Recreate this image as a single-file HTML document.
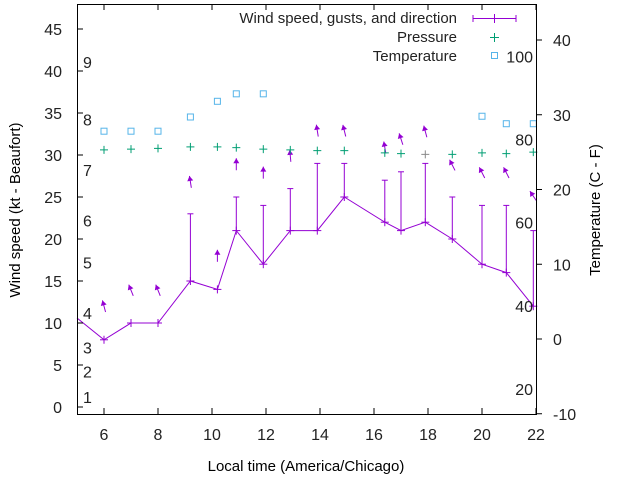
<!DOCTYPE html>
<html><head><meta charset="utf-8"><style>
body{margin:0;background:#fff}
svg{display:block;font-family:"Liberation Sans",sans-serif}
</style></head><body>
<svg id="chart" width="640" height="480">
<rect x="0" y="0" width="640" height="480" fill="#fff"/>
<g id="marks"></g>
<rect x="77.5" y="4.5" width="459" height="410" fill="none" stroke="#000"/>
<g id="axes" font-size="16" fill="#222"></g>
<text x="20" y="210" font-size="15" text-anchor="middle" transform="rotate(-90 20 210)">Wind speed (kt - Beaufort)</text>
<text x="600" y="210" font-size="15" text-anchor="middle" transform="rotate(-90 600 210)">Temperature (C - F)</text>
<text x="306" y="471" font-size="15" text-anchor="middle">Local time (America/Chicago)</text>
<g font-size="15" fill="#222">
<text x="457" y="23" text-anchor="end">Wind speed, gusts, and direction</text>
<text x="457" y="42" text-anchor="end">Pressure</text>
<text x="457" y="61" text-anchor="end">Temperature</text>
</g>
<g stroke="#9400d3" stroke-width="1"><line x1="473" y1="18.5" x2="516" y2="18.5"/><line x1="473" y1="15" x2="473" y2="22"/><line x1="516" y1="15" x2="516" y2="22"/><line x1="494.5" y1="14" x2="494.5" y2="23"/></g>
<g stroke="#009e73"><line x1="490" y1="37.5" x2="499" y2="37.5"/><line x1="494.5" y1="33" x2="494.5" y2="42"/></g>
<rect x="491.5" y="52.5" width="6" height="6" fill="none" stroke="#56b4e9"/>
</svg>
<script>
const hours=[6.0,7.0,8.0,9.2,10.2,10.9,11.9,12.9,13.9,14.9,16.4,17.0,17.9,18.9,20.0,20.9,21.9];
const windKt=[8,10,10,15,14,21,17,21,21,25,22,21,22,20,17,16,12];
const gustKt=[null,null,null,23,null,25,24,26,29,29,27,28,29,25,24,24,21];
const arrowKt=[12,13.9,13.9,26.8,18,28.9,27.9,29.9,32.9,32.9,30.9,31.9,32.8,28.8,27.9,27.9,25.1];
const arrowDir=[345,338,338,351,0,0,0,355,351,346,350,342,345,333,333,333,326];
const pressure=[25.3,25.4,25.5,25.7,25.7,25.6,25.4,25.3,25.2,25.2,24.9,24.8,24.7,24.7,24.9,24.8,25.0];
const tempHours=[6.0,7.0,8.0,9.2,10.2,10.9,11.9,20.0,20.9,21.9];
const tempC=[27.8,27.8,27.8,29.7,31.8,32.8,32.8,29.8,28.8,28.8];
const firstWind=10.6;
const xTicks=[6,8,10,12,14,16,18,20,22];
const yTicks=[0,5,10,15,20,25,30,35,40,45];
const y2Ticks=[-10,0,10,20,30,40];
const bftLabels=["1","2","3","4","5","6","7","8","9"];
const bftKt=[1.2,4.2,7.1,11.2,17.2,22.2,28.2,34.2,41.1];
const fLabels=["100","80","60","40","20"];
const fPos=[37.8,26.7,15.6,4.4,-6.7];

const X=h=>77+(h-5)*27, Y=v=>407-v*8.4, Y2=v=>339-v*7.475;
const NS="http://www.w3.org/2000/svg";
const marks=document.getElementById('marks'), axes=document.getElementById('axes');
function mk(p,tag,attrs){const e=document.createElementNS(NS,tag);for(const k in attrs)e.setAttribute(k,attrs[k]);p.appendChild(e);return e;}
const purple="#9400d3";
// wind line
let d="M77,"+Y(firstWind);
hours.forEach((h,i)=>{d+=" L"+X(h)+","+Y(windKt[i]);});
const wl=mk(marks,'path',{d:d,fill:'none',stroke:purple});


hours.forEach((h,i)=>{
  const x=X(h),y=Y(windKt[i]);
  const g=mk(marks,'g',{stroke:purple});
  
  
  mk(g,'line',{x1:x-4,y1:y,x2:x+4,y2:y});mk(g,'line',{x1:x,y1:y-4,x2:x,y2:y+4});
  if(gustKt[i]!==null){const gy=Y(gustKt[i]);mk(g,'line',{x1:x,y1:y,x2:x,y2:gy});mk(g,'line',{x1:x-3,y1:gy,x2:x+3,y2:gy});}
  // arrow
  const a=arrowDir[i]*Math.PI/180, cy=Y(arrowKt[i]), L=6;
  const dx=Math.sin(a)*L, dy=-Math.cos(a)*L;
  const hx=x+dx, hy=cy+dy;
  const ag=mk(marks,'g',{});
  
  
  mk(ag,'line',{x1:x-dx,y1:cy-dy,x2:hx,y2:hy,stroke:purple});
  const ux=dx/L,uy=dy/L;
  mk(ag,'polygon',{points:`${hx},${hy} ${hx-ux*5-uy*3},${hy-uy*5+ux*3} ${hx-ux*5+uy*3},${hy-uy*5-ux*3}`,fill:purple});
  // pressure
  const py=Y2(pressure[i]);
  const pg=mk(marks,'g',{stroke:i===12?'#888':'#009e73'});
  
  
  mk(pg,'line',{x1:x-4,y1:py,x2:x+4,y2:py});mk(pg,'line',{x1:x,y1:py-4,x2:x,y2:py+4});
});
tempHours.forEach((h,i)=>{
  const r=mk(marks,'rect',{x:X(h)-3,y:Y2(tempC[i])-3,width:6,height:6,fill:'none',stroke:'#56b4e9'});
  
  
});
xTicks.forEach(t=>{
  const x=X(t);
  mk(axes,'line',{x1:x,y1:414,x2:x,y2:408,stroke:'#000'});
  mk(axes,'line',{x1:x,y1:4,x2:x,y2:10,stroke:'#000'});
  const tx=mk(axes,'text',{x:x,y:440,'text-anchor':'middle'});tx.textContent=t;
  
  
});
yTicks.forEach(t=>{
  const y=Y(t);
  mk(axes,'line',{x1:77,y1:y,x2:83,y2:y,stroke:'#000'});
  const tx=mk(axes,'text',{x:62,y:y+6,'text-anchor':'end'});tx.textContent=t;
  
  
});
y2Ticks.forEach(t=>{
  const y=Y2(t);
  mk(axes,'line',{x1:536,y1:y,x2:542,y2:y,stroke:'#000'});
  const tx=mk(axes,'text',{x:553,y:y+6});tx.textContent=t;
  
  
});
bftLabels.forEach((l,i)=>{
  const tx=mk(axes,'text',{x:83,y:Y(bftKt[i])+6});tx.textContent=l;
  
  
});
fLabels.forEach((l,i)=>{
  const tx=mk(axes,'text',{x:533,y:Y2(fPos[i])+6,'text-anchor':'end'});tx.textContent=l;
  
  
});
</script>
</body></html>
